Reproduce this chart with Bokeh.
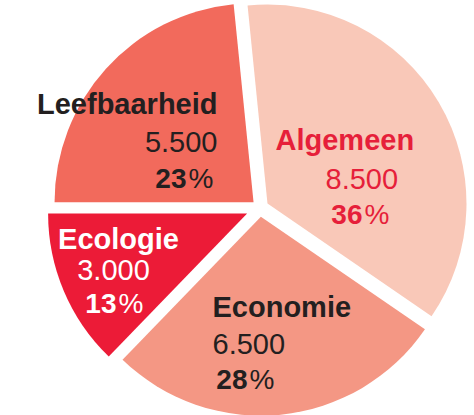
import math
from bokeh.plotting import figure
from bokeh.models import Range1d
from bokeh.core.properties import value
from bokeh.embed import file_html
from bokeh.resources import INLINE

# ---- data ----
categories = ["Leefbaarheid", "Algemeen", "Economie", "Ecologie"]
values = [5500, 8500, 6500, 3000]

# ---- styles ----
fill_colors = ["#F26A5C", "#F9C8B8", "#F49784", "#EC1B37"]
text_colors = ["#231F20", "#E61F3A", "#231F20", "#FFFFFF"]
FONT = "Liberation Sans"
FS_NAME = "29px"
FS_NUM = "29px"
FS_PCT = "28px"

# ---- layout (page pixel coords; y measured from top of page) ----
W, H = 474, 415
CX, CY = 259.5, 207.5       # pie centre
R = 199                     # radius
explode = [8.7, 8.7, 8.7, 14.0]
START = math.pi             # first slice starts at 9 o'clock, clockwise
TEXT_DY = -9                # renderer baseline correction

# per label: (name x, name baseline, name align), (number x, baseline, align),
# (split x between bold digits and '%', baseline)
label_layout = {
    "Leefbaarheid": ((217, 112, "right"), (217, 150, "right"), (186, 187)),
    "Algemeen":     ((275, 148, "left"),  (325, 187, "left"),  (362, 223)),
    "Economie":     ((212, 315, "left"),  (212, 352, "left"),  (247, 388)),
    "Ecologie":     ((118, 247, "center"), (113, 278, "center"), (116, 312)),
}


def fy(sy):
    return H - sy


def ty(sy):
    return H - (sy + TEXT_DY)


total = sum(values)
p = figure(width=W, height=H, output_backend="svg", toolbar_location=None,
           x_range=Range1d(0, W), y_range=Range1d(0, H),
           x_axis_type=None, y_axis_type=None, min_border=0)
p.grid.visible = False
p.outline_line_color = None
p.background_fill_color = "white"
p.border_fill_color = "white"

cum = 0.0
for i, (cat, v) in enumerate(zip(categories, values)):
    frac = v / total
    hi = START - cum * 2 * math.pi
    lo = hi - frac * 2 * math.pi
    mid = (hi + lo) / 2
    cum += frac
    x0 = CX + explode[i] * math.cos(mid)
    y0 = fy(CY) + explode[i] * math.sin(mid)
    p.wedge(x=[x0], y=[y0], radius=R, start_angle=[lo], end_angle=[hi],
            direction="anticlock", fill_color=fill_colors[i], line_color=None)

for i, (cat, v) in enumerate(zip(categories, values)):
    (nx, ny, na), (vx, vy, va), (px, py) = label_layout[cat]
    col = text_colors[i]
    num = f"{v:,}".replace(",", ".")
    pct = str(round(v / total * 100))
    p.text(x=[nx], y=[ty(ny)], text=[cat], text_font=value(FONT), text_font_size=FS_NAME,
           text_font_style="bold", text_color=col, text_align=na,
           text_baseline="alphabetic")
    p.text(x=[vx], y=[ty(vy)], text=[num], text_font=value(FONT), text_font_size=FS_NUM,
           text_font_style="normal", text_color=col, text_align=va,
           text_baseline="alphabetic")
    p.text(x=[px], y=[ty(py)], text=[pct], text_font=value(FONT), text_font_size=FS_PCT,
           text_font_style="bold", text_color=col, text_align="right",
           text_baseline="alphabetic")
    p.text(x=[px + 2], y=[ty(py)], text=["%"], text_font=value(FONT), text_font_size=FS_PCT,
           text_font_style="normal", text_color=col, text_align="left",
           text_baseline="alphabetic")

open("out.html", "w").write(file_html(p, INLINE))
